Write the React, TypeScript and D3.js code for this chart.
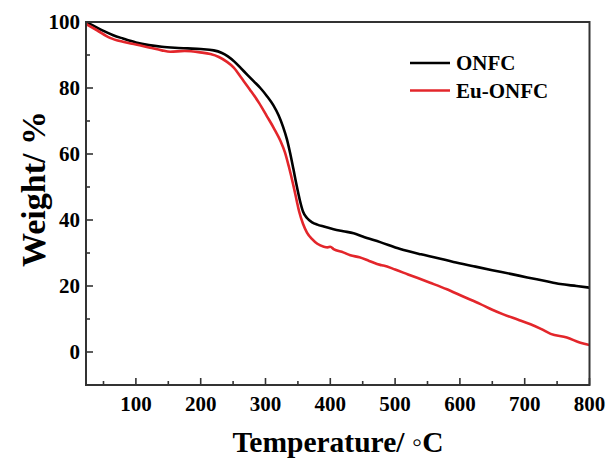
import React from "react";
import * as d3 from "d3";

const onfcTemps = [23, 35, 50, 65, 80, 100, 120, 140, 160, 180, 200, 220, 232, 242, 252, 262, 272, 282, 292, 302, 312, 320, 327, 333, 338, 343, 348, 353, 358, 364, 372, 380, 390, 405, 420, 436, 450, 477, 508, 540, 565, 590, 621, 650, 680, 704, 730, 755, 780, 800];
const onfcValues = [100, 98.8, 97.3, 96, 95, 93.8, 93, 92.5, 92.2, 92, 91.8, 91.4, 90.7, 89.6, 88, 86, 84, 82, 80, 77.6, 74.8, 71.8, 68.3, 64.5, 60.3, 55.5, 50.5, 46, 42.5, 40.6, 39.3, 38.6, 38, 37.2, 36.6, 36, 35, 33.3, 31.2, 29.6, 28.5, 27.3, 26, 24.8, 23.6, 22.6, 21.6, 20.6, 20, 19.5];

const euTemps = [23, 40, 60, 80, 100, 122, 140, 153, 175, 199, 215, 228, 240, 251, 263, 276, 290, 302, 313, 323, 330, 336, 343, 348, 352, 358, 364, 372, 380, 390, 396, 400, 405, 420, 431, 445, 460, 477, 482, 500, 520, 554, 580, 605, 631, 650, 667, 690, 709, 725, 740, 765, 786, 800];
const euValues = [99.4, 97.5, 95.2, 94, 93.2, 92.2, 91.4, 91, 91.2, 90.8, 90.3, 89.4, 88, 86.2, 83, 79.5, 75.5, 71.5, 67.8, 64, 60.5, 56.2, 50.5, 46, 42.5, 38.8, 36.2, 34.2, 32.8, 31.9, 31.7, 31.9, 31.2, 30.2, 29.3, 28.7, 27.6, 26.4, 26.2, 25, 23.5, 21, 19, 16.8, 14.6, 12.8, 11.4, 9.8, 8.4, 7, 5.5, 4.4, 2.8, 2.1];

const xTicks = [100, 200, 300, 400, 500, 600, 700, 800];
const xMinorTicks = [50, 150, 250, 350, 450, 550, 650, 750];
const yTicks = [0, 20, 40, 60, 80, 100];
const yMinorTicks = [-10, 10, 30, 50, 70, 90];
const seriesNames = ["ONFC", "Eu-ONFC"];
const seriesColors = ["#000000", "#e3262b"];

const W = 609;
const H = 459;
const left = 86, right = 589.5, top = 22, bottom = 385;
const font = "'Liberation Serif', 'Times New Roman', serif";

export default function App() {
  const x = d3.scaleLinear().domain([23, 800]).range([left, right]);
  const y = d3.scaleLinear().domain([-10, 100]).range([bottom, top]);
  const line = d3
    .line<[number, number]>()
    .x((d) => x(d[0]))
    .y((d) => y(d[1]))
    .curve(d3.curveMonotoneX);
  const series = [
    onfcTemps.map((t, i) => [t, onfcValues[i]] as [number, number]),
    euTemps.map((t, i) => [t, euValues[i]] as [number, number]),
  ];
  const axisColor = "#333";
  return (
    <svg width={W} height={H} style={{ position: "absolute", left: 0, top: 0, background: "#fff" }}>
      <rect x={0} y={0} width={W} height={H} fill="#fff" />
      <defs>
        <clipPath id="plotclip">
          <rect x={left} y={top} width={right - left} height={bottom - top} />
        </clipPath>
      </defs>
      <g clipPath="url(#plotclip)">
        {series.map((s, i) => (
          <path key={i} d={line(s) || ""} fill="none" stroke={seriesColors[i]} strokeWidth={2.6} strokeLinejoin="round" />
        ))}
      </g>
      <rect x={left} y={top} width={right - left} height={bottom - top} fill="none" stroke={axisColor} strokeWidth={2} />
      {xTicks.map((t) => (
        <g key={"x" + t}>
          <line x1={x(t)} x2={x(t)} y1={bottom} y2={bottom - 7} stroke={axisColor} strokeWidth={1.6} />
          <text x={x(t)} y={411} textAnchor="middle" fontFamily={font} fontWeight="bold" fontSize={21} fill="#000">
            {t}
          </text>
        </g>
      ))}
      {xMinorTicks.map((t) => (
        <line key={"xm" + t} x1={x(t)} x2={x(t)} y1={bottom} y2={bottom - 4} stroke={axisColor} strokeWidth={1.6} />
      ))}
      {yTicks.map((t) => (
        <g key={"y" + t}>
          <line x1={left} x2={left + 7} y1={y(t)} y2={y(t)} stroke={axisColor} strokeWidth={1.6} />
          <text x={80} y={y(t) + 7} textAnchor="end" fontFamily={font} fontWeight="bold" fontSize={21} fill="#000">
            {t}
          </text>
        </g>
      ))}
      {yMinorTicks.map((t) => (
        <line key={"ym" + t} x1={left} x2={left + 4} y1={y(t)} y2={y(t)} stroke={axisColor} strokeWidth={1.6} />
      ))}
      <text x={338} y={452} textAnchor="middle" fontFamily={font} fontWeight="bold" fontSize={29.5} fill="#000">
        Temperature/ ◦C
      </text>
      <text
        transform={`translate(45, 189) rotate(-90)`}
        textAnchor="middle"
        fontFamily={font}
        fontWeight="bold"
        fontSize={34}
        fill="#000"
      >
        Weight/ %
      </text>
      {seriesNames.map((n, i) => (
        <g key={n}>
          <line x1={410} x2={450} y1={63 + i * 27.5} y2={63 + i * 27.5} stroke={seriesColors[i]} strokeWidth={2.6} />
          <text x={456} y={70 + i * 27.5} fontFamily={font} fontWeight="bold" fontSize={21} fill="#000">
            {n}
          </text>
        </g>
      ))}
    </svg>
  );
}
